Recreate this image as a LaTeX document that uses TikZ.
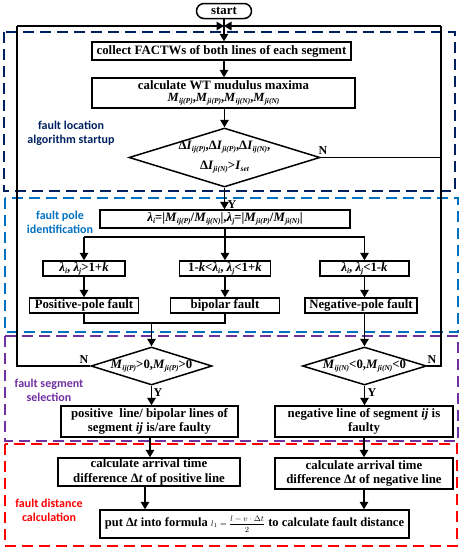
\documentclass[tikz,border=0pt]{standalone}
\usepackage{fontspec}
\setmainfont{Liberation Serif}
\newfontfamily\lblfont{Carlito}
\usetikzlibrary{arrows.meta,shapes.geometric,shapes.misc}
\definecolor{navyc}{HTML}{002060}
\definecolor{bluec}{HTML}{0070C0}
\definecolor{purpc}{HTML}{7030A0}
\definecolor{redc}{HTML}{FF0000}
\newcommand{\sbx}[1]{\raisebox{-0.35ex}{\fontsize{7.5}{8}\selectfont\itshape #1}}
\newcommand{\Mm}[2]{\textit{M}\sbx{#1(#2)}}
\newcommand{\DI}[2]{Δ\textit{I}\sbx{#1(#2)}}
\newcommand{\lam}[1]{\textit{λ}\sbx{#1}}
\begin{document}
\begin{tikzpicture}[x=1pt,y=-1pt,
  every node/.style={font=\bfseries\fontsize{12.8}{14.5}\selectfont},
  boxs/.style={draw,line width=1.5pt,inner sep=0pt,align=center},
  dia/.style={draw,diamond,line width=1.5pt,inner sep=0pt},
  conn/.style={line width=1.5pt},
  arr/.style={line width=1.5pt,-{Triangle[length=7.5pt,width=8.5pt]}},
  zone/.style={line width=1.5pt,dash pattern=on 11pt off 6pt},
  lbl/.style={font=\lblfont\bfseries\fontsize{12}{14}\selectfont,align=center},
  yn/.style={font=\bfseries\fontsize{12}{12}\selectfont,inner sep=0pt}]
\useasboundingbox (0,0) rectangle (462,550);
% zones
\draw[zone,navyc] (4,32) rectangle (455,191);
\draw[zone,bluec] (5,198) rectangle (458,332);
\draw[zone,purpc] (5,336) rectangle (458,441);
\draw[zone,redc] (5,444) rectangle (457,546);
\node[lbl,text=navyc] (L1) at (71,133) {fault location\\algorithm startup};
\node[lbl,text=bluec] (L2) at (60,222.5) {fault pole\\identification};
\node[lbl,text=purpc] (L3) at (49,390) {fault segment\\selection};
\node[lbl,text=redc] (L4) at (49,510) {fault distance\\calculation};
% nodes
\node[draw,rounded rectangle,line width=1.5pt,minimum width=55pt,minimum height=15pt,inner sep=0pt] (start) at (224,11) {start};
\node[boxs,minimum width=259pt,minimum height=18pt] (collect) at (221.5,51) {collect FACTWs of both lines of each segment};
\node[boxs,minimum width=263pt,minimum height=30pt] (wt) at (223.5,93) {calculate WT mudulus maxima\\[-2pt]{\fontsize{12.5}{12}\selectfont\Mm{ij}{P},\Mm{ji}{P},\Mm{ij}{N},\Mm{ji}{N}}};
\node[dia,minimum width=191pt,minimum height=59pt] (d1) at (224.5,157.5) {};
\node[align=center,inner sep=0pt,font=\bfseries\fontsize{12.8}{20}\selectfont] (d1t) at (d1.center) {\DI{ij}{P},\DI{ji}{P},\DI{ij}{N},\\\DI{ji}{N}>\textit{I}\sbx{set}};
\node[boxs,minimum width=250pt,minimum height=18pt] (lamb) at (225,219) {\lam{i}=|\Mm{ij}{P}/\Mm{ij}{N}|,\lam{j}=|\Mm{ji}{P}/\Mm{ji}{N}|};
\coordinate (br) at (225,237);
\coordinate (brl) at (84,237);
\coordinate (brr) at (364.5,237);
\node[boxs,minimum width=82pt,minimum height=15pt] (c1) at (84,268.5) {\lam{i}, \lam{j}>1+\textit{k}};
\node[boxs,minimum width=91pt,minimum height=15pt] (c2) at (225,268.5) {1-\textit{k}<\lam{i}, \lam{j}<1+\textit{k}};
\node[boxs,minimum width=89pt,minimum height=15pt] (c3) at (364.5,268.5) {\lam{i}, \lam{j}<1-\textit{k}};
\node[boxs,minimum width=109pt,minimum height=15pt] (f1) at (84,305.5) {Positive-pole fault};
\node[boxs,minimum width=109pt,minimum height=15pt] (f2) at (225,305.5) {bipolar fault};
\node[boxs,minimum width=112pt,minimum height=15pt] (f3) at (361,305.5) {Negative-pole fault};
\coordinate (ml) at (84,323);
\coordinate (mr) at (225,323);
\coordinate (mm) at (151.5,323);
\node[dia,minimum width=121pt,minimum height=38pt] (d2) at (151.5,366) {};
\node[inner sep=0pt] (d2t) at (d2.center) {\Mm{ij}{P}>0,\Mm{ji}{P}>0};
\node[dia,minimum width=124pt,minimum height=38pt] (d3) at (364.5,366) {};
\node[inner sep=0pt] (d3t) at (d3.center) {\Mm{ij}{N}<0,\Mm{ji}{N}<0};
\node[boxs,minimum width=177pt,minimum height=31pt] (r1) at (149.5,421.5) {positive\ \ line/ bipolar lines of\\segment \textit{ij} is/are faulty};
\node[boxs,minimum width=178pt,minimum height=31pt] (r2) at (364,421.5) {negative line of segment \textit{ij} is\\faulty};
\node[boxs,minimum width=182pt,minimum height=28pt] (a1) at (149,472) {calculate arrival time\\difference Δ\textit{t} of positive line};
\node[boxs,minimum width=178pt,minimum height=31pt] (a2) at (364,473.5) {calculate arrival time\\difference Δ\textit{t} of negative line};
\node[boxs,minimum width=309pt,minimum height=28pt,font=\bfseries\fontsize{12.5}{14}\selectfont] (fin) at (254.5,524) {put Δ\textit{t} into formula {\mdseries\fontsize{8}{9}\selectfont$l_1=\displaystyle\frac{l-v\cdot\Delta t}{2}$} to calculate fault distance};
% feedback corners
\coordinate (topm) at (224,26);
\coordinate (tl) at (17,26);
\coordinate (tr) at (441,26);
\coordinate (rd1) at (441,157.5);
\coordinate (rd3) at (441,366);
\coordinate (ld2) at (17,366);
% connectors
\draw[arr] (start.south) -- (start.south |- collect.north);
\draw[arr] (collect.south -| 224,0) -- (224,0 |- wt.north);
\draw[arr] (wt.south -| d1.north) -- (d1.north);
\draw[arr] (d1.south) -- (d1.south |- lamb.north);
\draw[conn] (lamb.south -| br) -- (br);
\draw[conn] (brl) -- (brr);
\draw[arr] (brl) -- (c1.north);
\draw[arr] (br) -- (c2.north);
\draw[arr] (brr) -- (c3.north);
\draw[arr] (c1) -- (f1);
\draw[arr] (c2) -- (f2);
\draw[arr] (c3.south) -- (c3.south |- f3.north);
\draw[conn] (f1.south) -- (ml) -- (mr) -- (f2.south);
\draw[arr] (mm) -- (d2.north);
\draw[arr] (f3.south -| d3.north) -- (d3.north);
\draw[arr] (d2.south) -- (d2.south |- r1.north);
\draw[arr] (d3.south) -- (d3.south |- r2.north);
\draw[arr] (r1.south -| 150,0) -- (150,0 |- a1.north);
\draw[arr] (r2) -- (a2);
\draw[arr] (a1.south -| 145,0) -- (145,0 |- fin.north);
\draw[arr] (a2.south) -- (a2.south |- fin.north);
\draw[conn] (d1.east) -- (rd1);
\draw[conn] (d3.east) -- (rd3) -- (tr);
\draw[arr] (tr) -- (topm);
\draw[conn] (d2.west) -- (ld2) -- (tl);
\draw[arr] (tl) -- (topm);
% Y / N labels
\node[yn] (n1) at (323,151) {N};
\node[yn] (y1) at (232,205) {Y};
\node[yn] (n2) at (84,360) {N};
\node[yn] (n3) at (432,360) {N};
\node[yn] (y2) at (158,393) {Y};
\node[yn] (y3) at (372,393) {Y};
\end{tikzpicture}
\end{document}
